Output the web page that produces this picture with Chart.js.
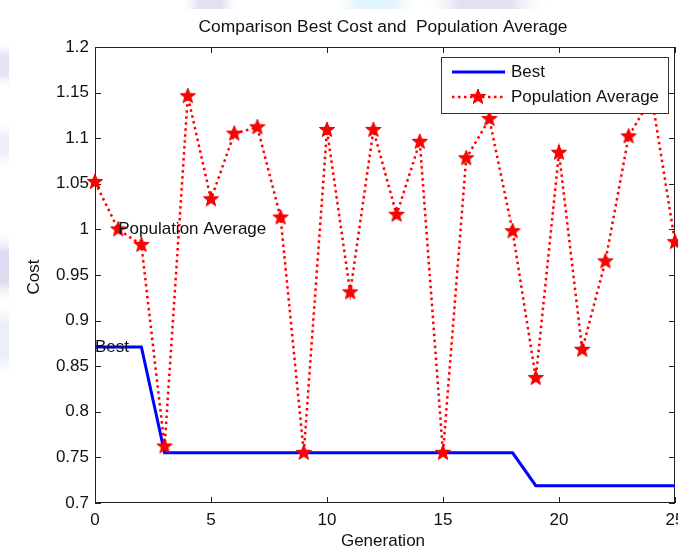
<!DOCTYPE html>
<html>
<head>
<meta charset="utf-8">
<script src="https://cdn.jsdelivr.net/npm/chart.js@4.4.1/dist/chart.umd.min.js"></script>
<style>
    html, body { margin: 0; padding: 0; background: #fff; }
    #wrap { width: 678px; height: 550px; }
</style>
</head>
<body>
<div id="wrap"><canvas id="cost-chart" width="678" height="550"></canvas></div>
<script>
// Values
const generations = [0, 1, 2, 3, 4, 5, 6, 7, 8, 9, 10, 11, 12, 13, 14, 15, 16, 17, 18, 19, 20, 21, 22, 23, 24, 25];
const bestCost = [0.871, 0.871, 0.871, 0.755, 0.755, 0.755, 0.755, 0.755, 0.755, 0.755, 0.755, 0.755, 0.755,
    0.755, 0.755, 0.755, 0.755, 0.755, 0.755, 0.719, 0.719, 0.719, 0.719, 0.719, 0.719, 0.719];
const popAverage = [1.052, 1.000, 0.983, 0.762, 1.146, 1.033, 1.105, 1.112, 1.013, 0.755, 1.109, 0.931, 1.109,
    1.016, 1.096, 0.755, 1.078, 1.121, 0.998, 0.837, 1.084, 0.868, 0.965, 1.102, 1.145, 0.986];
const seriesNames = ['Best', 'Population Average'];
const chartTitle = 'Comparison Best Cost and  Population Average';
const xTitle = 'Generation';
const yTitle = 'Cost';

const FONT = "'Liberation Sans', Arial, sans-serif";
const BLUE = '#0000ff';
const RED = '#ff0000';
const INK = '#111';

// filled five point star used as the marker
function makeStar(r) {
    const c = document.createElement('canvas');
    c.width = c.height = r * 2 + 2;
    const g = c.getContext('2d');
    g.translate(r + 1, r + 1);
    g.beginPath();
    for (let i = 0; i < 10; i++) {
        const rad = i % 2 === 0 ? r : r * 0.42;
        const a = -Math.PI / 2 + i * Math.PI / 5;
        g.lineTo(Math.cos(a) * rad, Math.sin(a) * rad);
    }
    g.closePath();
    g.fillStyle = RED;
    g.fill();
    g.strokeStyle = '#e00000';
    g.lineWidth = 1;
    g.stroke();
    return c;
}
const starImg = makeStar(8);

function softPatch(ctx, x, y, w, h, color) {
    const horiz = w > h;
    const grd = horiz ? ctx.createLinearGradient(x, 0, x + w, 0) : ctx.createLinearGradient(0, y, 0, y + h);
    grd.addColorStop(0, 'rgba(255,255,255,0)');
    grd.addColorStop(0.3, color);
    grd.addColorStop(0.7, color);
    grd.addColorStop(1, 'rgba(255,255,255,0)');
    ctx.fillStyle = grd;
    ctx.fillRect(x, y, w, h);
}

const matlabLook = {
    id: 'matlabLook',
    beforeDraw(chart) {
        const ctx = chart.ctx;
        ctx.save();
        ctx.fillStyle = '#fff';
        ctx.fillRect(0, 0, chart.width, chart.height);
        // faint watermark showing round the figure edge
        softPatch(ctx, 180, 0, 60, 9, 'rgba(205,200,232,0.55)');
        softPatch(ctx, 330, 0, 90, 9, 'rgba(205,238,250,0.6)');
        softPatch(ctx, 420, 0, 130, 9, 'rgba(205,200,232,0.55)');
        softPatch(ctx, 0, 40, 9, 50, 'rgba(205,200,232,0.5)');
        softPatch(ctx, 0, 120, 9, 50, 'rgba(222,226,240,0.5)');
        softPatch(ctx, 0, 230, 9, 75, 'rgba(200,195,230,0.6)');
        softPatch(ctx, 0, 300, 9, 80, 'rgba(214,222,240,0.5)');
        ctx.restore();
    },
    beforeDatasetsDraw(chart) {
        const { ctx, chartArea: a, scales: { x, y } } = chart;
        ctx.save();
        ctx.strokeStyle = '#222';
        ctx.lineWidth = 1;
        ctx.strokeRect(Math.round(a.left) + 0.5, Math.round(a.top) + 0.5,
            Math.round(a.right - a.left) - 1, Math.round(a.bottom - a.top) - 1);
        ctx.beginPath();
        const tl = 6;
        x.ticks.forEach(t => {
            const px = Math.round(x.getPixelForValue(t.value)) + 0.5;
            ctx.moveTo(px, a.bottom); ctx.lineTo(px, a.bottom - tl);
            ctx.moveTo(px, a.top); ctx.lineTo(px, a.top + tl);
        });
        y.ticks.forEach(t => {
            const py = Math.round(y.getPixelForValue(t.value)) + 0.5;
            ctx.moveTo(a.left, py); ctx.lineTo(a.left + tl, py);
            ctx.moveTo(a.right, py); ctx.lineTo(a.right - tl, py);
        });
        ctx.stroke();
        // x tick labels, written here so the last one may run off the edge as in the figure
        ctx.fillStyle = INK;
        ctx.font = '17px ' + FONT;
        ctx.textAlign = 'center';
        ctx.textBaseline = 'middle';
        x.ticks.forEach(t => {
            ctx.fillText(String(t.value), x.getPixelForValue(t.value), a.bottom + 17);
        });
        ctx.restore();
    },
    afterDatasetsDraw(chart) {
        const { ctx, chartArea: a, scales: { x, y } } = chart;
        ctx.save();
        ctx.font = '17px ' + FONT;
        ctx.fillStyle = INK;
        ctx.textBaseline = 'middle';
        ctx.textAlign = 'left';
        // text labels placed at data points, as in the figure
        ctx.fillText(seriesNames[1], x.getPixelForValue(generations[1]), y.getPixelForValue(popAverage[1]));
        ctx.fillText(seriesNames[0], x.getPixelForValue(generations[0]), y.getPixelForValue(bestCost[0]));

        // legend box
        const w = 227, h = 56;
        const lx = Math.round(a.right - 7 - w), ly = Math.round(a.top + 10);
        ctx.fillStyle = '#fff';
        ctx.fillRect(lx, ly, w, h);
        ctx.strokeStyle = '#333';
        ctx.lineWidth = 1;
        ctx.strokeRect(lx + 0.5, ly + 0.5, w, h);
        const r1 = ly + 15, r2 = ly + 40;
        ctx.strokeStyle = BLUE;
        ctx.lineWidth = 3;
        ctx.beginPath(); ctx.moveTo(lx + 11, r1); ctx.lineTo(lx + 64, r1); ctx.stroke();
        ctx.strokeStyle = RED;
        ctx.lineWidth = 2.5;
        ctx.setLineDash([2.5, 3.5]);
        ctx.beginPath(); ctx.moveTo(lx + 11, r2); ctx.lineTo(lx + 64, r2); ctx.stroke();
        ctx.setLineDash([]);
        ctx.drawImage(starImg, lx + 37 - starImg.width / 2, r2 - starImg.height / 2);
        ctx.fillStyle = INK;
        ctx.fillText(seriesNames[0], lx + 70, r1);
        ctx.fillText(seriesNames[1], lx + 70, r2);
        ctx.restore();
    },
    afterDraw(chart) {
        const { ctx, chartArea: a } = chart;
        const cx = (a.left + a.right) / 2;
        ctx.save();
        ctx.fillStyle = INK;
        ctx.font = '17.4px ' + FONT;
        ctx.textAlign = 'center';
        ctx.textBaseline = 'middle';
        ctx.fillText(chartTitle, cx - 2, 27);
        ctx.font = '17px ' + FONT;
        ctx.fillText(xTitle, cx - 2, 541);
        ctx.translate(34, (a.top + a.bottom) / 2 + 2);
        ctx.rotate(-Math.PI / 2);
        ctx.fillText(yTitle, 0, 0);
        ctx.restore();
    }
};

const ctx = document.getElementById('cost-chart');
const chart = new Chart(ctx, {
    type: 'line',
    data: {
        datasets: [
            {
                label: seriesNames[0],
                data: generations.map((g, i) => ({ x: g, y: bestCost[i] })),
                borderColor: BLUE,
                borderWidth: 3,
                pointRadius: 0,
                tension: 0,
                order: 1
            },
            {
                label: seriesNames[1],
                data: generations.map((g, i) => ({ x: g, y: popAverage[i] })),
                borderColor: RED,
                borderWidth: 2.5,
                borderDash: [2.5, 3.5],
                pointStyle: starImg,
                pointRadius: 8,
                tension: 0,
                clip: false,
                order: 0
            }
        ]
    },
    options: {
        responsive: false,
        animation: false,
        layout: { autoPadding: false, padding: { left: 0, right: 3, top: 47, bottom: 0 } },
        plugins: {
            legend: { display: false },
            title: { display: false },
            tooltip: { enabled: false }
        },
        scales: {
            x: {
                type: 'linear',
                min: 0,
                max: 25,
                grid: { display: false, drawTicks: false },
                border: { display: false },
                ticks: { stepSize: 5, display: false },
                afterFit(scale) {
                    scale.height = 47;
                    scale.paddingLeft = 0;
                    scale.paddingRight = 0;
                }
            },
            y: {
                min: 0.7,
                max: 1.2,
                grid: { display: false, drawTicks: false },
                border: { display: false },
                ticks: {
                    stepSize: 0.05,
                    padding: 6,
                    color: INK,
                    font: { family: FONT, size: 17 },
                    callback: v => String(Math.round(v * 100) / 100)
                },
                afterFit(scale) {
                    scale.width = 95;
                    scale.paddingTop = 0;
                    scale.paddingBottom = 0;
                }
            }
        }
    },
    plugins: [matlabLook]
});
</script>
</body>
</html>
